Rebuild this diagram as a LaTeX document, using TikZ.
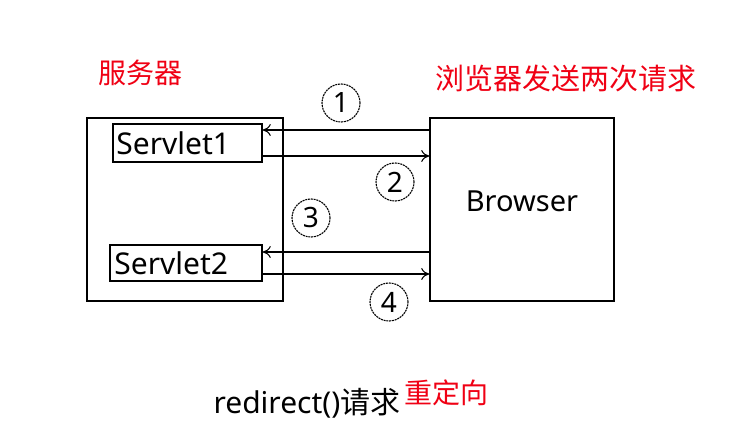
\documentclass[tikz,border=0pt]{standalone}
\usepackage{fontspec}
\setmainfont{Noto Sans}
\newfontfamily\cjk{Noto Sans CJK SC}
\usetikzlibrary{arrows.meta}
\definecolor{redtxt}{RGB}{240,0,20}
\begin{document}
\begin{tikzpicture}[x=1pt,y=-1pt,
  box/.style={draw,line width=1.5pt,inner sep=0pt},
  num/.style={draw,circle,dashed,dash pattern=on 2pt off 0.8pt,line width=1.1pt,minimum size=38pt,inner sep=0pt,font=\fontsize{28}{30}\selectfont},
  arr/.style={line width=1.4pt,-{To[length=8pt,width=12pt,line width=1pt]}},
  lab/.style={font=\fontsize{30}{32}\selectfont,inner sep=0pt,anchor=west},
  redlab/.style={text=redtxt,font=\cjk\fontsize{28}{30}\selectfont}]
\useasboundingbox[fill=white] (0,0) rectangle (748,439);
\node[box,minimum width=196pt,minimum height=183pt] (server) at (185,209.5) {};
\node[box,minimum width=149pt,minimum height=38pt] (s1) at (187.5,143) {};
\node[box,minimum width=152pt,minimum height=36pt] (s2) at (186,263) {};
\node[lab] (s1t) at ([xshift=4pt]s1.west) {Servlet1};
\node[lab] (s2t) at ([xshift=5pt]s2.west) {Servlet2};
\node[box,minimum width=184pt,minimum height=183pt] (browser) at (522,209.5) {};
\node[font=\fontsize{29}{31}\selectfont] (btxt) at (522,201) {Browser};
\coordinate (y1) at (0,130);
\coordinate (y2) at (0,156);
\coordinate (y3) at (0,252);
\coordinate (y4) at (0,274);
\draw[arr] (browser.west |- y1) -- (s1.east |- y1);
\draw[arr] (s1.east |- y2) -- (browser.west |- y2);
\draw[arr] (browser.west |- y3) -- (s2.east |- y3);
\draw[arr] (s2.east |- y4) -- (browser.west |- y4);
\node[num] (n1) at (341,103) {1};
\node[num] (n2) at (395,182) {2};
\node[num] (n3) at (311,218) {3};
\node[num] (n4) at (389,302) {4};
\node[redlab] (srv) at (140,73) {服务器};
\node[redlab,font=\cjk\fontsize{29}{31}\selectfont] (brw) at (566,78) {浏览器发送两次请求};
\node[font=\fontsize{30}{32}\selectfont] (redir) at (307,403) {redirect(){\cjk 请求}};
\node[redlab] (cdx) at (446,393) {重定向};
\end{tikzpicture}
\end{document}
